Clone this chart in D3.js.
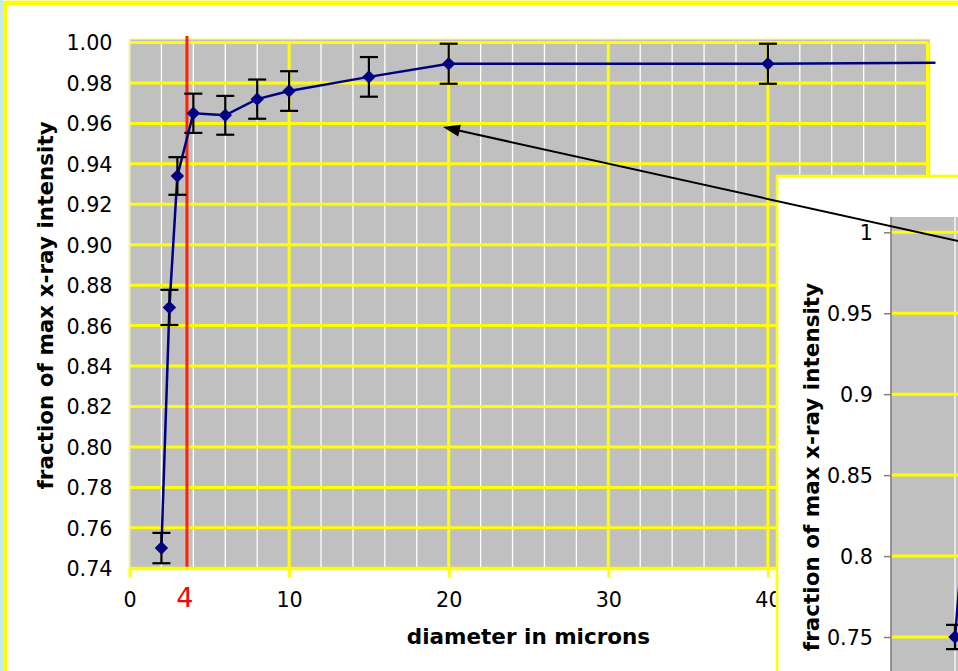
<!DOCTYPE html>
<html><head><meta charset="utf-8">
<script src="https://cdn.jsdelivr.net/npm/d3@7"></script>
<style>html,body{margin:0;padding:0;background:#fff;overflow:hidden}</style>
</head><body><svg id="c" width="958" height="671"></svg>
<script>
// ---- data ----
const diameters = [2, 2.5, 3, 4, 6, 8, 10, 15, 20, 40];
const fractions = [0.750, 0.869, 0.934, 0.965, 0.964, 0.972, 0.976, 0.983, 0.9895, 0.9895];
const errors    = [0.0075, 0.0087, 0.0093, 0.0097, 0.0096, 0.0097, 0.0098, 0.0098, 0.0099, 0.0099];
const tailDiameter = 50.5, tailFraction = 0.990;   // line continues past last marker
const xTicks = [0, 10, 20, 30, 40];
const xMajorGrid = [10, 20, 30, 40, 50];
const xMinorGrid = [2,4,6,8,12,14,16,18,22,24,26,28,32,34,36,38,42,44,46,48];
const yTicks = [0.74,0.76,0.78,0.80,0.82,0.84,0.86,0.88,0.90,0.92,0.94,0.96,0.98,1.00];
const insetYTicks = [0.75, 0.80, 0.85, 0.90, 0.95, 1.00];
const insetXMinor = [2, 4, 6];
const cutoffDiameter = 3.6, cutoffLabel = "4";
const arrowTip = [19.64, 0.9582], arrowTail = [54.5, 0.8973];
const yTitle = "fraction of max x-ray intensity";
const xTitle = "diameter in microns";

const FONT = "'DejaVu Sans', Verdana, sans-serif";
const YEL = "#ffff00", GRAY = "#c0c0c0", NAVY = "#000080";
const TICK_FS = 20.7;
const svg = d3.select("#c");

// ---- outer frame ----
svg.append("rect").attr("x",0).attr("y",0).attr("width",3).attr("height",671).attr("fill","#c6e9ef");
svg.append("rect").attr("x",3).attr("y",0).attr("width",955).attr("height",1.2).attr("fill","#ffffa8");
svg.append("rect").attr("x",3).attr("y",1).attr("width",955).attr("height",4).attr("fill",YEL);
svg.append("rect").attr("x",3).attr("y",1).attr("width",4).attr("height",670).attr("fill",YEL);

// ---- main chart ----
const x = d3.scaleLinear().domain([0, 50]).range([129.5, 927.5]);
const y = d3.scaleLinear().domain([0.74, 1.00]).range([568.3, 42.5]);
const main = svg.append("g");

main.append("rect")
  .attr("x", x(0)).attr("y", y(1) - 3.5)
  .attr("width", x(50) - x(0) + 2.5).attr("height", y(0.74) - y(1) + 3.5)
  .attr("fill", GRAY).attr("stroke", "#ffff99").attr("stroke-width", 1);

main.selectAll(".vmin").data(xMinorGrid).join("line")
  .attr("x1", d => x(d)).attr("x2", d => x(d))
  .attr("y1", y(1)).attr("y2", y(0.74))
  .attr("stroke", "#ffffff").attr("stroke-width", 1.3);

main.selectAll(".hgrid").data(yTicks).join("line")
  .attr("x1", x(0)).attr("x2", x(50))
  .attr("y1", d => y(d)).attr("y2", d => y(d))
  .attr("stroke", YEL).attr("stroke-width", 3);

main.selectAll(".vmaj").data(xMajorGrid).join("line")
  .attr("x1", d => x(d)).attr("x2", d => x(d))
  .attr("y1", y(1)).attr("y2", y(0.74))
  .attr("stroke", YEL).attr("stroke-width", 3);

// left axis line
main.append("line").attr("x1", x(0)).attr("x2", x(0)).attr("y1", y(1)-3).attr("y2", y(0.74))
  .attr("stroke", "#f2f2b0").attr("stroke-width", 2);

// x axis
const xAxis = main.append("g").attr("transform", `translate(0,${y(0.74)})`)
  .call(d3.axisBottom(x).tickValues(xTicks).tickSize(9).tickSizeOuter(0));
xAxis.select(".domain").attr("stroke", YEL).attr("stroke-width", 3);
xAxis.selectAll(".tick line").attr("stroke", YEL).attr("stroke-width", 3);
xAxis.selectAll(".tick text").attr("y", 39).attr("dy", 0)
  .attr("font-family", FONT).attr("font-size", TICK_FS).attr("fill", "#000");

// y axis labels
const yAxis = main.append("g").attr("transform", `translate(${x(0)},0)`)
  .call(d3.axisLeft(y).tickValues(yTicks).tickFormat(d3.format(".2f")).tickSize(0).tickPadding(17));
yAxis.select(".domain").remove();
yAxis.selectAll(".tick text").attr("font-family", FONT).attr("font-size", TICK_FS).attr("fill", "#000").attr("dy", "0.36em");

// cutoff line and label
main.append("line").attr("x1", x(cutoffDiameter)).attr("x2", x(cutoffDiameter))
  .attr("y1", y(1) - 6.5).attr("y2", y(0.74) - 1.5)
  .attr("stroke", "#ff2200").attr("stroke-width", 3);
main.append("text").attr("x", x(cutoffDiameter) - 2).attr("y", 607)
  .attr("text-anchor", "middle").attr("font-family", FONT).attr("font-size", 27)
  .attr("fill", "#ff0000").text(cutoffLabel);

// series
const pts = diameters.map((d, i) => ({x: d, y: fractions[i], e: errors[i]}));
const linePts = pts.concat([{x: tailDiameter, y: tailFraction}]);
main.append("path").datum(linePts)
  .attr("d", d3.line().x(d => x(d.x)).y(d => y(d.y)))
  .attr("fill", "none").attr("stroke", NAVY).attr("stroke-width", 2.5);

function errorBars(g, xs, ys, pts, cap) {
  const eb = g.selectAll(null).data(pts).join("g").attr("stroke", "#000").attr("stroke-width", 2.2);
  eb.append("line").attr("x1", d => xs(d.x)).attr("x2", d => xs(d.x))
    .attr("y1", d => ys(d.y + d.e)).attr("y2", d => ys(d.y - d.e));
  eb.append("line").attr("x1", d => xs(d.x) - cap).attr("x2", d => xs(d.x) + cap)
    .attr("y1", d => ys(d.y + d.e)).attr("y2", d => ys(d.y + d.e));
  eb.append("line").attr("x1", d => xs(d.x) - cap).attr("x2", d => xs(d.x) + cap)
    .attr("y1", d => ys(d.y - d.e)).attr("y2", d => ys(d.y - d.e));
}
function markers(g, xs, ys, pts) {
  g.selectAll(null).data(pts).join("path")
    .attr("d", d3.symbol(d3.symbolSquare, 90))
    .attr("transform", d => `translate(${xs(d.x)},${ys(d.y)}) rotate(45)`)
    .attr("fill", NAVY);
}
errorBars(main, x, y, pts, 9);
markers(main, x, y, pts);

// titles
main.append("text").attr("transform", `translate(53,${(y(1)+y(0.74))/2}) rotate(-90)`)
  .attr("text-anchor", "middle").attr("font-family", FONT).attr("font-weight", "bold")
  .attr("font-size", 21.5).text(yTitle);
main.append("text").attr("x", (x(0)+x(50))/2).attr("y", 644)
  .attr("text-anchor", "middle").attr("font-family", FONT).attr("font-weight", "bold")
  .attr("font-size", 21.5).text(xTitle);

// ---- inset (zoomed copy) ----
const ix = d3.scaleLinear().domain([0, 10]).range([891, 1211]);
const iy = d3.scaleLinear().domain([0.75, 1.00]).range([637, 232.3]);
const inset = svg.append("g");
inset.append("rect").attr("x", 777).attr("y", 176).attr("width", 400).attr("height", 600)
  .attr("fill", "#fff").attr("stroke", YEL).attr("stroke-width", 2.6);
svg.append("defs").append("clipPath").attr("id", "iclip")
  .append("rect").attr("x", ix(0)).attr("y", 217).attr("width", 400).attr("height", 600);
const ip = inset.append("g").attr("clip-path", "url(#iclip)");
ip.append("rect").attr("x", ix(0)).attr("y", 217).attr("width", 400).attr("height", 600).attr("fill", GRAY);
ip.selectAll(null).data(insetXMinor).join("line")
  .attr("x1", d => ix(d)).attr("x2", d => ix(d)).attr("y1", 217).attr("y2", 700)
  .attr("stroke", "#fff").attr("stroke-width", 1.3);
ip.selectAll(null).data(insetYTicks).join("line")
  .attr("x1", ix(0)).attr("x2", 1000).attr("y1", d => iy(d)).attr("y2", d => iy(d))
  .attr("stroke", YEL).attr("stroke-width", 3);
ip.append("path").datum(linePts)
  .attr("d", d3.line().x(d => ix(d.x)).y(d => iy(d.y)))
  .attr("fill", "none").attr("stroke", NAVY).attr("stroke-width", 2.5);
errorBars(ip, ix, iy, pts, 9);
markers(ip, ix, iy, pts);

inset.append("line").attr("x1", ix(0)).attr("x2", ix(0)).attr("y1", 217).attr("y2", 700)
  .attr("stroke", "#808080").attr("stroke-width", 1.6);
const iAxis = inset.append("g").attr("transform", `translate(${ix(0)},0)`)
  .call(d3.axisLeft(iy).tickValues(insetYTicks).tickFormat(d => String(+d.toFixed(2))).tickSize(7).tickSizeOuter(0).tickPadding(11));
iAxis.select(".domain").remove();
iAxis.selectAll(".tick line").attr("stroke", "#808080").attr("stroke-width", 1.5);
iAxis.selectAll(".tick text").attr("font-family", FONT).attr("font-size", TICK_FS).attr("fill", "#000").attr("dy", "0.36em");
inset.append("text").attr("transform", `translate(819,467) rotate(-90)`)
  .attr("text-anchor", "middle").attr("font-family", FONT).attr("font-weight", "bold")
  .attr("font-size", 21.5).text(yTitle);

// ---- arrow ----
const ax1 = x(arrowTail[0]), ay1 = y(arrowTail[1]), ax2 = x(arrowTip[0]), ay2 = y(arrowTip[1]);
const ang = Math.atan2(ay2 - ay1, ax2 - ax1);
const L = 17, W = 6;
const bx = ax2 - L * Math.cos(ang), by = ay2 - L * Math.sin(ang);
svg.append("line").attr("x1", ax1).attr("y1", ay1).attr("x2", bx + 2*Math.cos(ang)).attr("y2", by + 2*Math.sin(ang))
  .attr("stroke", "#000").attr("stroke-width", 2);
svg.append("path")
  .attr("d", `M${ax2},${ay2} L${bx - W*Math.sin(ang)},${by + W*Math.cos(ang)} L${bx + W*Math.sin(ang)},${by - W*Math.cos(ang)} Z`)
  .attr("fill", "#000");
</script></body></html>
